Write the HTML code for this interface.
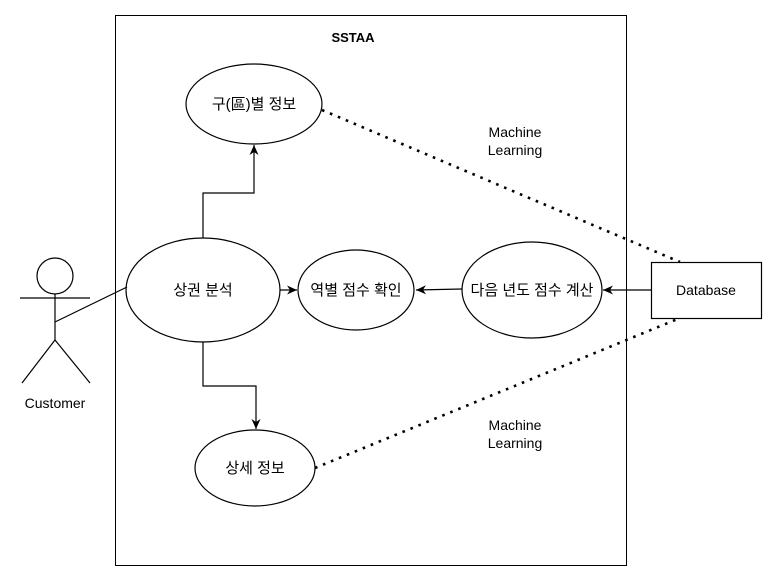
<!DOCTYPE html>
<html><head><meta charset="utf-8"><style>html,body{margin:0;padding:0;background:#fff}svg{display:block}</style></head>
<body>
<svg width="783" height="583" viewBox="0 0 783 583" xmlns="http://www.w3.org/2000/svg" font-family="'Liberation Sans','Noto Sans CJK KR',sans-serif">
<defs><marker id="a" markerWidth="12" markerHeight="12" refX="10" refY="6" orient="auto" markerUnits="userSpaceOnUse"><path d="M0,1.5 L10,6 L0,10.5 L3,6 Z" fill="#000"/></marker></defs>
<rect x="115.5" y="15.5" width="511" height="550" fill="#fff" stroke="#000"/>
<text x="353" y="42" font-size="13" font-weight="bold" text-anchor="middle">SSTAA</text>
<g fill="#fff" stroke="#000" stroke-width="1.2">
<ellipse cx="254" cy="104" rx="68" ry="40"/>
<ellipse cx="203" cy="290" rx="77" ry="52"/>
<ellipse cx="356" cy="290" rx="58" ry="40"/>
<ellipse cx="532" cy="290" rx="70" ry="48"/>
<ellipse cx="255" cy="468" rx="60" ry="38"/>
<rect x="651.5" y="262.5" width="110" height="56"/>
<circle cx="55" cy="276" r="18"/>
</g>
<g stroke="#000" stroke-width="1.2" fill="none">
<line x1="55" y1="294" x2="55" y2="340"/>
<line x1="20" y1="298" x2="90" y2="298"/>
<line x1="55" y1="340" x2="22" y2="383"/>
<line x1="55" y1="340" x2="90" y2="383"/>
<line x1="55" y1="322" x2="127" y2="287"/>
<polyline points="203,238 203,193 254,193 254,145" marker-end="url(#a)"/>
<polyline points="203,342 203,386 256,386 256,429" marker-end="url(#a)"/>
<line x1="280" y1="290" x2="297" y2="290" marker-end="url(#a)"/>
<line x1="462" y1="289" x2="416" y2="290" marker-end="url(#a)"/>
<line x1="651" y1="290" x2="603" y2="290" marker-end="url(#a)"/>
<line x1="322" y1="110" x2="680" y2="262" stroke-width="2.6" stroke-dasharray="2.6,6"/>
<line x1="315" y1="468" x2="680" y2="318" stroke-width="2.6" stroke-dasharray="2.6,6"/>
</g>
<g font-size="15" text-anchor="middle">
<text x="254" y="109">구(區)별 정보</text>
<text x="203" y="295">상권 분석</text>
<text x="356" y="295">역별 점수 확인</text>
<text x="532" y="295">다음 년도 점수 계산</text>
<text x="255" y="473">상세 정보</text>
</g>
<g font-size="14" text-anchor="middle">
<text x="706" y="295">Database</text>
<text x="55" y="408">Customer</text>
<text x="515" y="137">Machine</text><text x="515" y="155">Learning</text>
<text x="515" y="430">Machine</text><text x="515" y="448">Learning</text>
</g>
</svg>
</body></html>
